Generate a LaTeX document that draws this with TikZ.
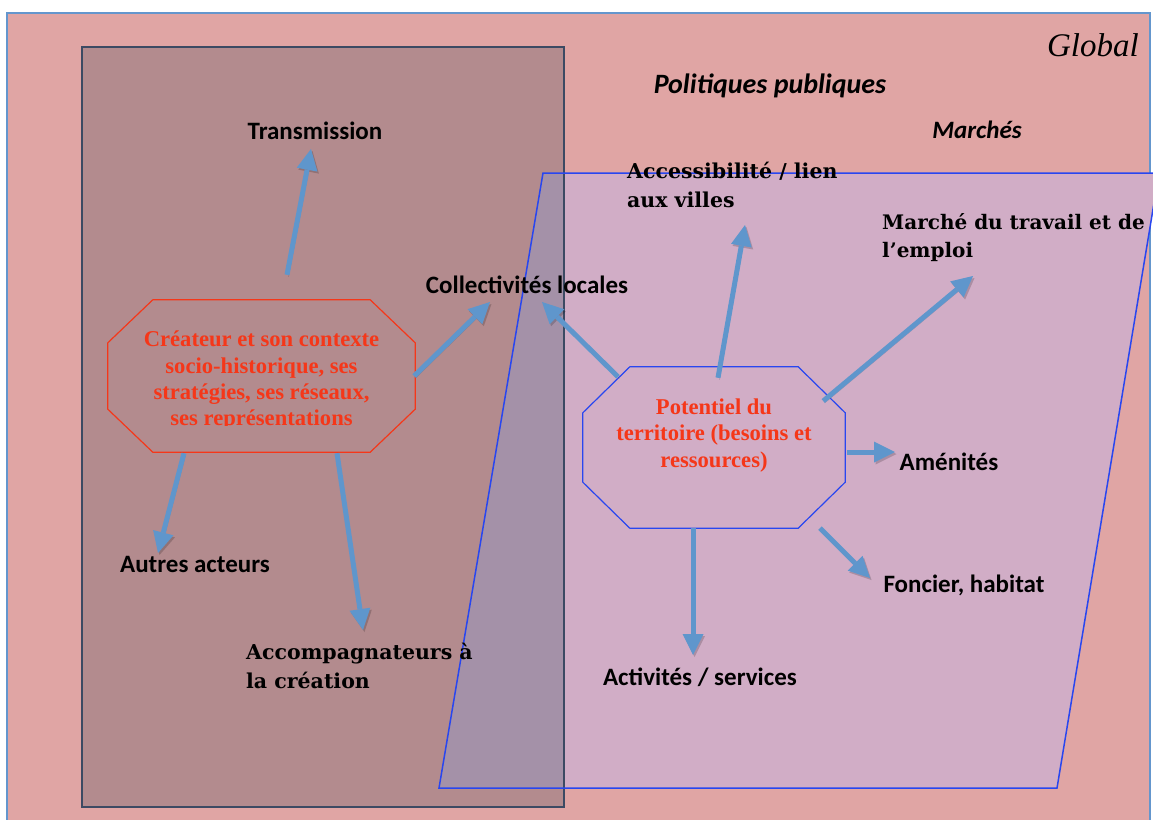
\documentclass[tikz,border=0pt]{standalone}
\usepackage{fontspec}
\setmainfont{Liberation Serif}
\newfontfamily\calibri{Carlito}
\newfontfamily\cambria{DejaVu Serif}
\usetikzlibrary{arrows.meta}

\definecolor{globalfill}{RGB}{224,165,164}
\definecolor{globalline}{RGB}{100,150,205}
\definecolor{actorfill}{RGB}{179,139,142}
\definecolor{actorline}{RGB}{60,74,99}
\definecolor{terrfill}{RGB}{209,173,198}
\definecolor{terrline}{RGB}{40,70,240}
\definecolor{bothfill}{RGB}{164,145,168}
\definecolor{redtext}{RGB}{245,55,25}
\definecolor{flowblue}{RGB}{95,150,204}

\tikzset{
  octo/.style={rectangle, inner sep=0pt},
  lab/.style={font=\calibri\bfseries\fontsize{25}{30}\selectfont, inner sep=0pt},
  serlab/.style={font=\cambria\bfseries\fontsize{20.5}{29}\selectfont, align=left, inner sep=0pt},
  octotext/.style={font=\bfseries\fontsize{22.6}{26.2}\selectfont, text=redtext, align=center, inner sep=0pt},
  flow/.style={draw=flowblue, line width=5pt, -{Triangle[width=21pt,length=21pt,line width=0pt 0]},
    preaction={draw=black, opacity=0.18, transform canvas={shift={(1.5pt,-2pt)}}}}
}

% contour octogonal autour d'un noeud : nom, coupe x, coupe y, couleur
\newcommand\octoborder[4]{%
  \draw[#4, line width=1.2pt] ([xshift=#2]#1.north west) -- ([xshift=-#2]#1.north east)
    -- ([yshift=-#3]#1.north east) -- ([yshift=#3]#1.south east)
    -- ([xshift=-#2]#1.south east) -- ([xshift=#2]#1.south west)
    -- ([yshift=#3]#1.south west) -- ([yshift=-#3]#1.north west) -- cycle;}

\begin{document}
\begin{tikzpicture}[x=1pt,y=-1pt]
	\useasboundingbox (0,0) rectangle (1153,819);
	
	% fonds
	\fill[globalfill] (7,13) rectangle (1150,830);
	\draw[globalline, line width=2pt] (7,830) -- (7,13) -- (1150,13) -- (1150,830);
	\fill[actorfill] (82,47) rectangle (564,807);
	\fill[terrfill] (543,173) -- (1159,173) -- (1057,788) -- (439,788) -- cycle;
	\begin{scope}
		\clip (82,47) rectangle (564,807);
		\fill[bothfill] (543,173) -- (1159,173) -- (1057,788) -- (439,788) -- cycle;
	\end{scope}
	\draw[actorline, line width=2pt] (82,47) rectangle (564,807);
	\draw[terrline, line width=1.5pt] (543,173) -- (1159,173) -- (1057,788) -- (439,788) -- cycle;
	
	% titres
	\node[font=\itshape\fontsize{33}{40}\selectfont, anchor=base east, inner sep=0pt] (global) at (1139,56) {Global};
	\node[lab, font=\calibri\bfseries\itshape\fontsize{28}{32}\selectfont, anchor=base] (politiques) at (770,93) {Politiques publiques};
	\node[lab, font=\calibri\bfseries\itshape\fontsize{25}{30}\selectfont, anchor=base] (marches) at (977,138) {Marchés};
	
	% octogones
	\node[octo, minimum width=307pt, minimum height=152pt] (creator) at (261.5,376) {};
	\node[octo, minimum width=262pt, minimum height=161pt] (potentiel) at (714,447.5) {};
	\octoborder{creator}{45pt}{43pt}{redtext}
	\octoborder{potentiel}{47pt}{46pt}{terrline}
	\begin{scope}
		\clip (100,300) rectangle (420,425);
		\node[octotext, anchor=base] (creatortxt) at (261.5,425.5) {Créateur et son contexte\\socio-historique, ses\\stratégies, ses réseaux,\\ses représentations};
	\end{scope}
	\node[octotext, anchor=base] (potentieltxt) at (714,467) {Potentiel du\\territoire (besoins et\\ressources)};
	
	% etiquettes
	\node[lab, anchor=base] (transm) at (315,139) {Transmission};
	\node[lab, anchor=base] (coll) at (527,293) {Collectivités locales};
	\node[serlab, anchor=base west] (access) at (627,207) {Accessibilité / lien\\aux villes};
	\node[serlab, font=\cambria\bfseries\fontsize{20}{28}\selectfont, anchor=base west] (travail) at (882,257) {Marché du travail et de\\l’emploi};
	\node[lab, anchor=base] (amen) at (949,470) {Aménités};
	\node[lab, anchor=base] (foncier) at (964,592) {Foncier, habitat};
	\node[lab, anchor=base] (activ) at (700,685) {Activités / services};
	\node[lab, anchor=base] (autres) at (195,572) {Autres acteurs};
	\node[serlab, anchor=base west] (accomp) at (246,688) {Accompagnateurs à\\la création};
	
	% fleches
	\draw[flow] ([shift={(25.5,-25)}]creator.north) -- ([shift={(-4,10)}]transm.base);
	\draw[flow] ([shift={(-1,0)}]creator.east) -- ([shift={(-37,9)}]coll.base);
	\draw[flow] ([shift={(-96,10)}]potentiel.north) -- ([shift={(15,9)}]coll.base);
	\draw[flow] ([shift={(4,11)}]potentiel.north) -- ([shift={(118,18)}]access.base west);
	\draw[flow] ([shift={(-22,-46.5)}]potentiel.east) -- ([shift={(91,19)}]travail.base west);
	\draw[flow] ([shift={(2,4.5)}]potentiel.east) -- ([shift={(-54,-18)}]amen.base);
	\draw[flow] ([shift={(106,0)}]potentiel.south) -- ([shift={(-94,-14)}]foncier.base);
	\draw[flow] ([shift={(-21,0)}]potentiel.south) -- ([shift={(-7,-30)}]activ.base);
	\draw[flow] ([shift={(-77.5,1)}]creator.south) -- ([shift={(-37,-19)}]autres.base);
	\draw[flow] ([shift={(75.5,1)}]creator.south) -- ([shift={(117,-58)}]accomp.base west);
\end{tikzpicture}
\end{document}
